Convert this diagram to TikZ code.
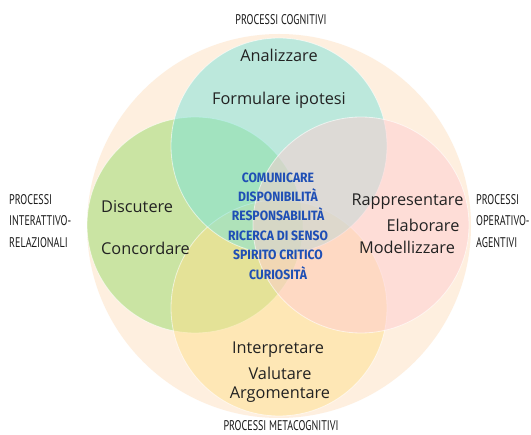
\documentclass[tikz,border=0pt]{standalone}
\usepackage{fontspec}
\setmainfont{Open Sans}
\newfontfamily\labfont[FakeStretch=0.72]{PT Sans}
\newfontfamily\ctrfont[FakeStretch=0.9]{Fira Sans}
\definecolor{bgpeach}{HTML}{FEEFDF}
\definecolor{cteal}{HTML}{7CE3DB}
\definecolor{cgreen}{HTML}{97DB69}
\definecolor{cpink}{HTML}{FECDD1}
\definecolor{cyellow}{HTML}{FEE18D}
\definecolor{txtdark}{HTML}{222222}
\definecolor{labdark}{HTML}{1A1A1A}
\definecolor{ctrblue}{HTML}{1F4FB5}
\begin{document}
\begin{tikzpicture}[x=1pt,y=-1pt,
  ring/.style={circle, minimum size=216pt, inner sep=0pt, draw=white, draw opacity=0.6, line width=0.8pt, fill opacity=0.5},
  word/.style={font=\fontsize{16.3}{18}\selectfont, text=txtdark, inner sep=0pt},
  lab/.style={font=\labfont\fontsize{14}{16}\selectfont, text=labdark, inner sep=0pt},
  ctr/.style={font=\ctrfont\bfseries\fontsize{13.5}{19.4}\selectfont, text=ctrblue, align=center, inner sep=0pt}]
\fill[white] (0,0) rectangle (531,435);
\useasboundingbox (0,0) rectangle (531,435);
\node[circle, minimum size=384pt, inner sep=0pt, fill=bgpeach] (big) at (279,226) {};
\node[ring, fill=cgreen] (green) at (195,225) {};
\node[ring, fill=cyellow] (yellow) at (279,308) {};
\node[ring, fill=cteal] (teal) at (279,146) {};
\node[ring, fill=cpink] (pink) at (361,225) {};
% words
\node[word] (w1) at (279,55) {Analizzare};
\node[word] (w2) at (279,100) {Formulare ipotesi};
\node[word, anchor=west] (w3) at (101,207) {Discutere};
\node[word, anchor=west] (w4) at (101,248) {Concordare};
\node[word] (w5) at (407.5,202) {Rappresentare};
\node[word] (w6) at (423,225) {Elaborare};
\node[word] (w7) at (407,247) {Modellizzare};
\node[word] (w8) at (278,350) {Interpretare};
\node[word] (w9) at (280,373) {Valutare};
\node[word] (w10) at (280,395) {Argomentare};
% center
\node[ctr] (center) at (278,226) {COMUNICARE\\DISPONIBILIT\`A\\RESPONSABILIT\`A\\RICERCA DI SENSO\\SPIRITO CRITICO\\CURIOSIT\`A};
% labels
\node[lab] (l1) at (281,20) {PROCESSI COGNITIVI};
\node[lab] (l2) at (281,426) {PROCESSI METACOGNITIVI};
\node[lab, anchor=west, align=left, font=\labfont\fontsize{14}{21.5}\selectfont] (l3) at (9,221) {PROCESSI\\INTERATTIVO-\\RELAZIONALI};
\node[lab, anchor=west, align=left, font=\labfont\fontsize{14}{21.5}\selectfont] (l4) at (476,221) {PROCESSI\\OPERATIVO-\\AGENTIVI};
\end{tikzpicture}
\end{document}
